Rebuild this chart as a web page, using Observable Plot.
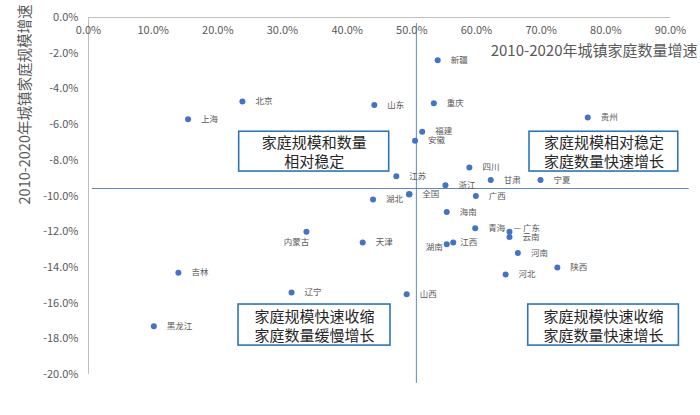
<!DOCTYPE html>
<html><head><meta charset="utf-8">
<script src="https://cdn.jsdelivr.net/npm/d3@7"></script>
<script src="https://cdn.jsdelivr.net/npm/@observablehq/plot@0.6"></script>
<style>body{margin:0;background:#fff;} svg{overflow:visible}</style>
</head><body><div id="chart"></div>
<script>
// ---- data (percent) ----
const regions = ["新疆","北京","山东","重庆","上海","贵州","福建","安徽","四川","江苏","浙江","甘肃","宁夏","全国","湖北","广西","海南","内蒙古","青海","广东","云南","天津","江西","湖南","河南","陕西","吉林","河北","辽宁","山西","黑龙江"];
const householdGrowth = [54.0,23.8,44.2,53.4,15.4,77.2,51.6,50.5,58.9,47.6,55.2,62.2,69.9,49.6,44.0,59.9,55.4,33.7,59.8,65.1,65.1,42.4,56.4,55.4,66.4,72.5,13.9,64.5,31.4,49.2,10.1];
const sizeGrowth = [-2.4,-4.7,-4.9,-4.8,-5.7,-5.6,-6.4,-6.9,-8.4,-8.9,-9.4,-9.1,-9.1,-9.9,-10.2,-10.0,-10.9,-12.0,-11.8,-12.0,-12.3,-12.6,-12.6,-12.7,-13.2,-14.0,-14.3,-14.4,-15.4,-15.5,-17.3];
const xTicks = [0,10,20,30,40,50,60,70,80,90];
const yTicks = [0,-2,-4,-6,-8,-10,-12,-14,-16,-18,-20];
const xTitle = "2010-2020年城镇家庭数量增速";
const yTitle = "2010-2020年城镇家庭规模增速";
const quadrantNotes = ["家庭规模和数量\n相对稳定","家庭规模相对稳定\n家庭数量快速增长","家庭规模快速收缩\n家庭数量缓慢增长","家庭规模快速收缩\n家庭数量快速增长"];
const dividerX = 50.7;
const dividerY = -9.58;

// ---- layout config ----
const boxExtents = [
  {x1:23.3,x2:46.5,y1:-6.4,y2:-8.63},
  {x1:68.2,x2:91.2,y1:-6.4,y2:-8.63},
  {x1:23.2,x2:46.7,y1:-16.08,y2:-18.38},
  {x1:68.0,x2:91.3,y1:-16.08,y2:-18.38}
];
const labelPlacement = {"湖南":"left","内蒙古":"below","江西":"near","广东":"leader"};

const table = regions.map((r,i)=>({region:r, x:householdGrowth[i], y:sizeGrowth[i], place:labelPlacement[r]||"right"}));
const boxes = quadrantNotes.map((t,i)=>({text:t, ...boxExtents[i], cx:(boxExtents[i].x1+boxExtents[i].x2)/2, cy:(boxExtents[i].y1+boxExtents[i].y2)/2}));

const fmt = d => `${d.toFixed(1)}%`;
const gray = "#595959";
const blue = "#4472C4";
const labelStyle = {fontSize: 8.5, fill: gray, text: "region"};

const chart = Plot.plot({
  width: 700, height: 415,
  marginTop: 17, marginBottom: 41, marginLeft: 88, marginRight: 30,
  x: {domain: [0, 90]},
  y: {domain: [-20, 0]},
  style: {fontFamily: "'Noto Sans CJK SC', 'Noto Sans', sans-serif", background: "#fff", overflow: "visible"},
  marks: [
    Plot.ruleX([0], {stroke: "#bfbfbf", strokeWidth: 1}),
    Plot.ruleY([0], {stroke: "#bfbfbf", strokeWidth: 1}),
    Plot.axisX({anchor: "top", ticks: xTicks, tickFormat: fmt, tickSize: 0, tickPadding: -16, fontSize: 11, fill: gray, label: null}),
    Plot.axisY({anchor: "left", ticks: yTicks, tickFormat: fmt, tickSize: 0, tickPadding: 10, fontSize: 11, fill: gray, label: null}),
    Plot.ruleY([dividerY], {x1: 0.6, x2: 92.9, stroke: blue, strokeWidth: 1, strokeOpacity: 0.85}),
    Plot.ruleX([dividerX], {y1: -0.34, y2: -20.5, stroke: blue, strokeWidth: 1, strokeOpacity: 0.85}),
    Plot.rect(boxes, {x1: "x1", x2: "x2", y1: "y1", y2: "y2", fill: "#fff", stroke: "#2E75B6", strokeWidth: 1.6}),
    Plot.text(boxes, {x: "cx", y: "cy", text: "text", fontSize: 15, lineHeight: 1.27, fill: "#262626"}),
    Plot.dot(table, {x: "x", y: "y", r: d => d.region === "全国" ? 5.2 : 4.4, fill: blue, stroke: "none"}),
    Plot.text(table.filter(d => d.place === "right"), {x: "x", y: "y", ...labelStyle, textAnchor: "start", dx: 13}),
    Plot.text(table.filter(d => d.place === "near"), {x: "x", y: "y", ...labelStyle, textAnchor: "start", dx: 7}),
    Plot.text(table.filter(d => d.place === "left"), {x: "x", y: "y", ...labelStyle, textAnchor: "end", dx: -4, dy: 3}),
    Plot.text(table.filter(d => d.place === "below"), {x: "x", y: "y", ...labelStyle, textAnchor: "middle", dx: -10, dy: 11}),
    Plot.text(table.filter(d => d.place === "leader"), {x: "x", y: "y", ...labelStyle, text: d => "— " + d.region, textAnchor: "start", dx: 4, dy: -3}),
    Plot.text([xTitle], {frameAnchor: "top-right", text: d => d, textAnchor: "end", lineAnchor: "middle", dx: 27, dy: 34, fontSize: 15, fill: gray}),
    Plot.text([yTitle], {frameAnchor: "top-left", text: d => d, rotate: -90, textAnchor: "middle", lineAnchor: "middle", dx: -63, dy: 87, fontSize: 14.5, fill: gray})
  ]
});
document.getElementById("chart").append(chart);
</script>
</body></html>
